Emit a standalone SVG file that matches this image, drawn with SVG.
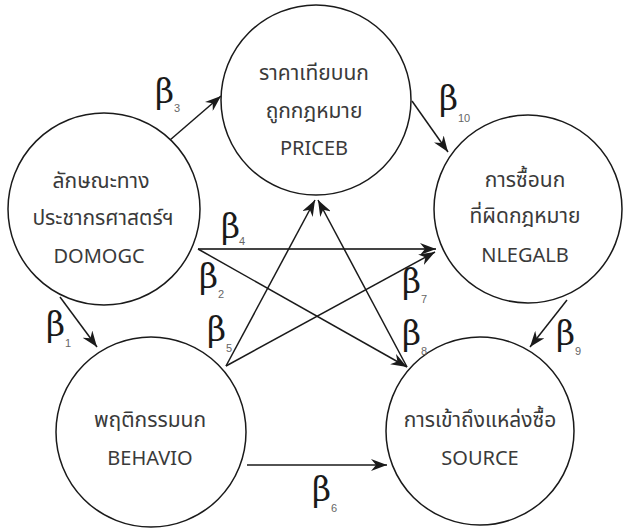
<svg xmlns="http://www.w3.org/2000/svg" width="624" height="529" viewBox="0 0 624 529">
<style>
.node circle{fill:#fff;stroke:#1a1a1a;stroke-width:1.5}
.lbl{font-family:"Noto Sans","Noto Sans Thai","Liberation Sans",sans-serif;font-size:20px;fill:#3a3a3a;text-anchor:middle}
.th{font-size:21px}
.conn line{stroke:#1a1a1a;stroke-width:1.5;marker-end:url(#ah)}
.b{font-family:"DejaVu Serif","Liberation Serif",serif;font-size:33px;fill:#1a1a1a}
.s{font-family:"Liberation Sans",sans-serif;font-size:11px;fill:#666}
</style>
<defs>
<marker id="ah" markerUnits="userSpaceOnUse" markerWidth="18" markerHeight="12" refX="16" refY="6" orient="auto">
<path d="M0,0 L16,6 L0,12 L5,6 z" fill="#1a1a1a"/>
</marker>
</defs>
<rect width="624" height="529" fill="#fff"/>
<g id="connectors" class="conn">
<line x1="170" y1="140" x2="221" y2="96"/>
<line x1="412" y1="101" x2="448" y2="152"/>
<line x1="198" y1="249" x2="436" y2="249" style="stroke:#444;stroke-width:2"/>
<line x1="198" y1="249" x2="407" y2="367"/>
<line x1="226" y1="366" x2="315" y2="200"/>
<line x1="226" y1="366" x2="435" y2="252"/>
<line x1="407" y1="367" x2="318" y2="200"/>
<line x1="60" y1="297" x2="97" y2="347"/>
<line x1="567" y1="300" x2="530" y2="347"/>
<line x1="247" y1="465" x2="387" y2="465"/>
</g>
<g id="DOMOGC" class="node">
<circle cx="104" cy="209" r="96"/>
<text class="lbl th" x="101" y="188">ลักษณะทาง</text>
<text class="lbl th" x="103" y="225">ประชากรศาสตร์ฯ</text>
<text class="lbl" x="99" y="263">DOMOGC</text>
</g>
<g id="PRICEB" class="node">
<circle cx="316" cy="100" r="95"/>
<text class="lbl th" x="314" y="80">ราคาเทียบนก</text>
<text class="lbl th" x="314" y="118">ถูกกฎหมาย</text>
<text class="lbl" x="314" y="155">PRICEB</text>
</g>
<g id="NLEGALB" class="node">
<circle cx="528" cy="209" r="94"/>
<text class="lbl th" x="525" y="187">การซื้อนก</text>
<text class="lbl th" x="525" y="223">ที่ผิดกฎหมาย</text>
<text class="lbl" x="525" y="262">NLEGALB</text>
</g>
<g id="BEHAVIO" class="node">
<circle cx="151" cy="432" r="95"/>
<text class="lbl th" x="150" y="427">พฤติกรรมนก</text>
<text class="lbl" x="150" y="465">BEHAVIO</text>
</g>
<g id="SOURCE" class="node">
<circle cx="480" cy="431" r="94"/>
<text class="lbl th" x="480" y="427">การเข้าถึงแหล่งซื้อ</text>
<text class="lbl" x="480" y="465">SOURCE</text>
</g>
<g id="labels">
<text class="b" x="155" y="103">β</text><text class="s" x="174" y="112">3</text>
<text class="b" x="439" y="110">β</text><text class="s" x="458" y="122">10</text>
<text class="b" x="221" y="238">β</text><text class="s" x="239" y="245">4</text>
<text class="b" x="199" y="288">β</text><text class="s" x="218" y="298">2</text>
<text class="b" x="207" y="341">β</text><text class="s" x="226" y="352">5</text>
<text class="b" x="402" y="293">β</text><text class="s" x="421" y="303">7</text>
<text class="b" x="402" y="345">β</text><text class="s" x="421" y="355">8</text>
<text class="b" x="556" y="345">β</text><text class="s" x="575" y="355">9</text>
<text class="b" x="46" y="336">β</text><text class="s" x="65" y="347">1</text>
<text class="b" x="312" y="501">β</text><text class="s" x="331" y="512">6</text>
</g>
</svg>
